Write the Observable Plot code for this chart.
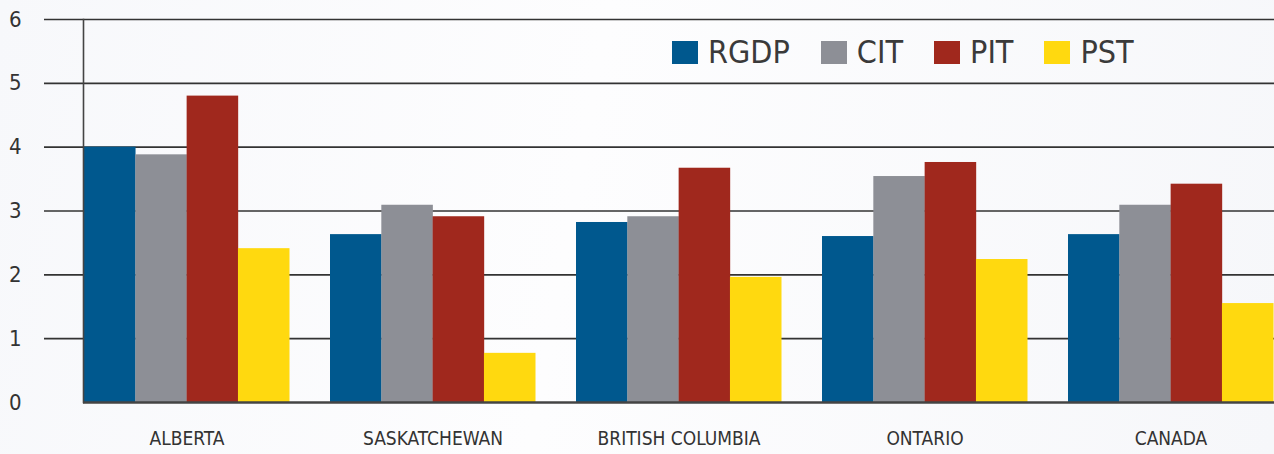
<!DOCTYPE html>
<html>
<head>
<meta charset="utf-8">
<script src="https://cdn.jsdelivr.net/npm/d3@7"></script>
<script src="https://cdn.jsdelivr.net/npm/@observablehq/plot@0.6"></script>
<style>
  html, body { margin: 0; padding: 0; background: #f9fafc; }
  #wrap { position: relative; width: 1274px; height: 454px; overflow: hidden;
    background: linear-gradient(100deg, #f7f8fb 0%, #fdfdfe 45%, #f6f7fa 100%); }
  #wrap svg { display: block; }
  #legend { position: absolute; left: 672px; top: 33px; display: flex; align-items: center;
    font-family: 'Liberation Sans Narrow', 'DejaVu Sans Condensed', 'Roboto Condensed', sans-serif;
    font-size: 32px; color: #3a3a3a; }
  .item { display: flex; align-items: center; margin-right: 31px; }
  .sw { width: 26px; height: 23px; margin-right: 10px; }
</style>
</head>
<body>
<div id="wrap"><div id="legend"></div></div>
<script>
const provinces = ["ALBERTA", "SASKATCHEWAN", "BRITISH COLUMBIA", "ONTARIO", "CANADA"];
const seriesNames = ["RGDP", "CIT", "PIT", "PST"];
const seriesColors = ["#00588e", "#8d8f96", "#a0281d", "#ffd90f"];
const rgdp = [4.0, 2.63, 2.82, 2.6, 2.63];
const cit  = [3.88, 3.09, 2.91, 3.54, 3.09];
const pit  = [4.8, 2.91, 3.67, 3.76, 3.42];
const pst  = [2.41, 0.77, 1.96, 2.24, 1.55];
const yTicks = [0, 1, 2, 3, 4, 5, 6];

const seriesValues = [rgdp, cit, pit, pst];
const W = 1274, H = 454;
const mL = 83, mR = 0, mT = 19, mB = 52;
const pInner = 0.167;
const step = (W - mL - mR) / (provinces.length - pInner);
const bw = step * (1 - pInner);
const barW = bw / seriesNames.length;

const font = "'Liberation Sans Narrow', 'DejaVu Sans Condensed', 'Roboto Condensed', sans-serif";

const barMarks = seriesNames.map((s, i) => Plot.barY(
  provinces.map((p, j) => ({province: p, value: seriesValues[i][j]})),
  {x: "province", y: "value", fill: seriesColors[i],
   insetLeft: i * barW, insetRight: (seriesNames.length - 1 - i) * barW - 0.5}
));

const chart = Plot.plot({
  width: W, height: H,
  marginLeft: mL, marginRight: mR, marginTop: mT, marginBottom: mB,
  style: {background: "transparent", fontFamily: font},
  x: {domain: provinces, paddingInner: pInner, paddingOuter: 0, label: null},
  y: {domain: [0, 6], label: null},
  marks: [
    Plot.ruleY(yTicks.filter(d => d > 0), {stroke: "#333", strokeWidth: 1.6, insetLeft: -39}),
    ...barMarks,
    Plot.ruleY([0], {stroke: "#444", strokeWidth: 2.5}),
    Plot.frame({anchor: "left", stroke: "#444", strokeWidth: 1.6}),
    Plot.axisY({ticks: yTicks, tickFormat: d3.format("d"), tickSize: 0, tickPadding: 62, fontSize: 22, fill: "#333", label: null}),
    Plot.axisX({tickSize: 0, tickPadding: 29, fontSize: 19, fill: "#333", label: null})
  ]
});
document.getElementById("wrap").prepend(chart);

const legend = document.getElementById("legend");
seriesNames.forEach((s, i) => {
  const it = document.createElement("div");
  it.className = "item";
  const sw = document.createElement("div");
  sw.className = "sw";
  sw.style.background = seriesColors[i];
  const t = document.createElement("span");
  t.textContent = s;
  it.appendChild(sw); it.appendChild(t);
  legend.appendChild(it);
});
</script>
</body>
</html>
